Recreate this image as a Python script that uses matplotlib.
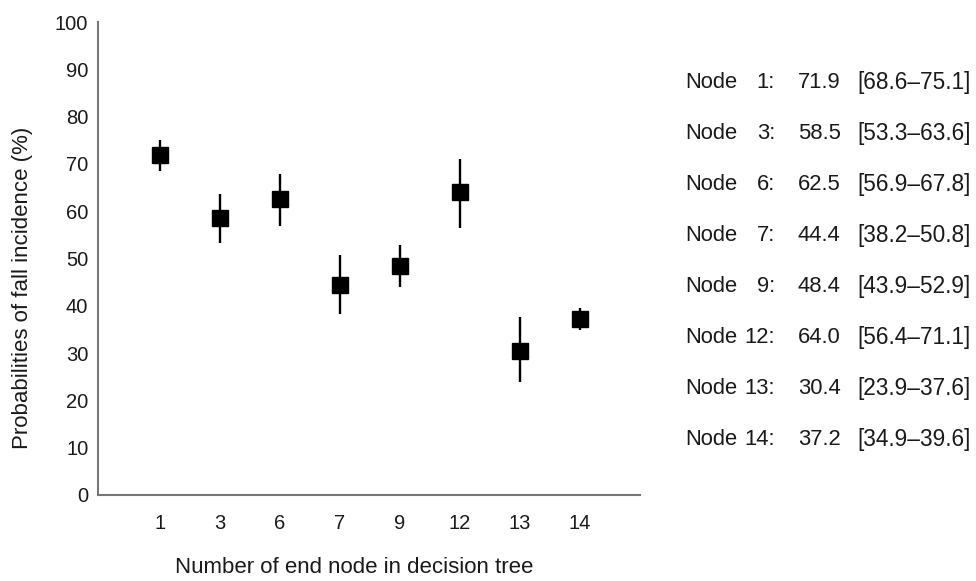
import matplotlib.pyplot as plt
import numpy as np

plt.rcParams['font.family'] = ['Liberation Sans', 'DejaVu Sans']

# data
nodes = ["1", "3", "6", "7", "9", "12", "13", "14"]
probs = [71.9, 58.5, 62.5, 44.4, 48.4, 64.0, 30.4, 37.2]
ci_low = [68.6, 53.3, 56.9, 38.2, 43.9, 56.4, 23.9, 34.9]
ci_high = [75.1, 63.6, 67.8, 50.8, 52.9, 71.1, 37.6, 39.6]

fig = plt.figure(figsize=(9.76, 5.81), dpi=100)
ax = fig.add_axes([98 / 976, 1 - 495 / 581, (640 - 98) / 976, (495 - 22) / 581])

x = np.arange(len(nodes))
p = np.array(probs)
yerr = [p - np.array(ci_low), np.array(ci_high) - p]
ax.errorbar(x, p, yerr=yerr, fmt="s", color="black", ecolor="black",
            elinewidth=1.7, markersize=11, capsize=0)

ax.set_xlim(-1.03, 8.0)
ax.set_ylim(0, 100)
ax.set_yticks(range(0, 101, 10))
ax.set_xticks(x)
ax.set_xticklabels(nodes)
ax.tick_params(axis="both", length=0, labelsize=14.5, colors="#1a1a1a")
ax.tick_params(axis="x", pad=14)
ax.tick_params(axis="y", pad=7)
for s in ["top", "right"]:
    ax.spines[s].set_visible(False)
for s in ["left", "bottom"]:
    ax.spines[s].set_color("#777777")
    ax.spines[s].set_linewidth(1.5)

ax.set_xlabel("Number of end node in decision tree", fontsize=16, color="#1a1a1a")
ax.set_ylabel("Probabilities of fall incidence (%)", fontsize=16, color="#1a1a1a")
ax.xaxis.set_label_coords((354 - 98) / 542, -(557 - 495) / 473)
ax.yaxis.set_label_coords(-(98 - 33) / 542, (495 - 288) / 473)

# right-hand summary text
for i in range(len(nodes)):
    ypos = 1 - (82 + i * 51.1) / 581
    fig.text(685 / 976, ypos, "Node", fontsize=15.8, va="center", ha="left", color="#1a1a1a")
    fig.text(775 / 976, ypos, nodes[i] + ":", fontsize=15.8, va="center", ha="right", color="#1a1a1a")
    fig.text(798 / 976, ypos, "%.1f" % probs[i], fontsize=15.8, va="center", ha="left", color="#1a1a1a")
    fig.text(857 / 976, ypos, "[%.1f\u2013%.1f]" % (ci_low[i], ci_high[i]),
             fontsize=16.3, va="center", ha="left", color="#1a1a1a")

fig.savefig("out.png", dpi=100)
